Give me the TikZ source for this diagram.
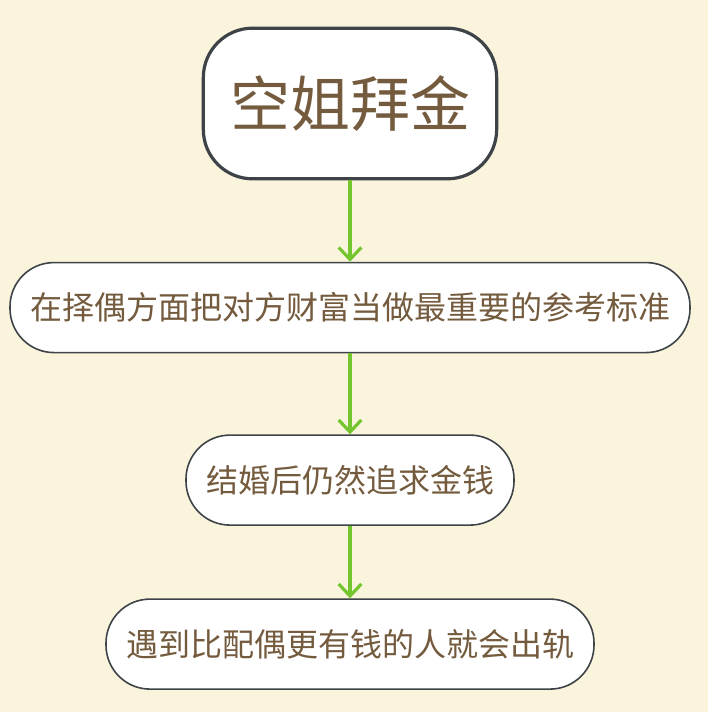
\documentclass[tikz,border=0pt]{standalone}
\usepackage{fontspec}
\newfontfamily\cjk{Noto Sans CJK SC}
\usetikzlibrary{positioning, arrows.meta}
\definecolor{bgcream}{HTML}{FBF4DD}
\definecolor{boxline}{HTML}{3D4347}
\definecolor{textbrown}{HTML}{745B3E}
\definecolor{arrowgreen}{HTML}{74C62F}

\begin{document}
\begin{tikzpicture}[
  x=0.75pt, y=-0.75pt,
  every node/.style={font=\cjk, text=textbrown, align=center},
  topbox/.style={draw=boxline, line width=2.4pt, fill=white, rounded corners=37pt,
    minimum width=220pt, minimum height=113pt, font=\cjk\fontsize{45pt}{50pt}\selectfont},
  stepbox/.style={draw=boxline, line width=1.2pt, fill=white, rounded corners=33pt,
    minimum height=67.5pt, inner xsep=15pt, font=\cjk\fontsize{24pt}{28pt}\selectfont},
  flow/.style={arrowgreen, line width=2.4pt, -{Straight Barb[length=9pt, width=17pt, line width=2.4pt]}}
]

% Background
\fill[bgcream] (0,0) rectangle (708,712);
\useasboundingbox (0,0) rectangle (708,712);

% Title
\node[topbox] (T) at (350,103.5) {空姐拜金};

% Steps
\node[stepbox, below=61pt of T] (S1) {在择偶方面把对方财富当做最重要的参考标准};
\node[stepbox, below=60.7pt of S1] (S2) {结婚后仍然追求金钱};
\node[stepbox, below=54.3pt of S2] (S3) {遇到比配偶更有钱的人就会出轨};

% Arrows
\draw[flow] (T) -- (S1);
\draw[flow] (S1) -- (S2);
\draw[flow] (S2) -- (S3);

\end{tikzpicture}
\end{document}
